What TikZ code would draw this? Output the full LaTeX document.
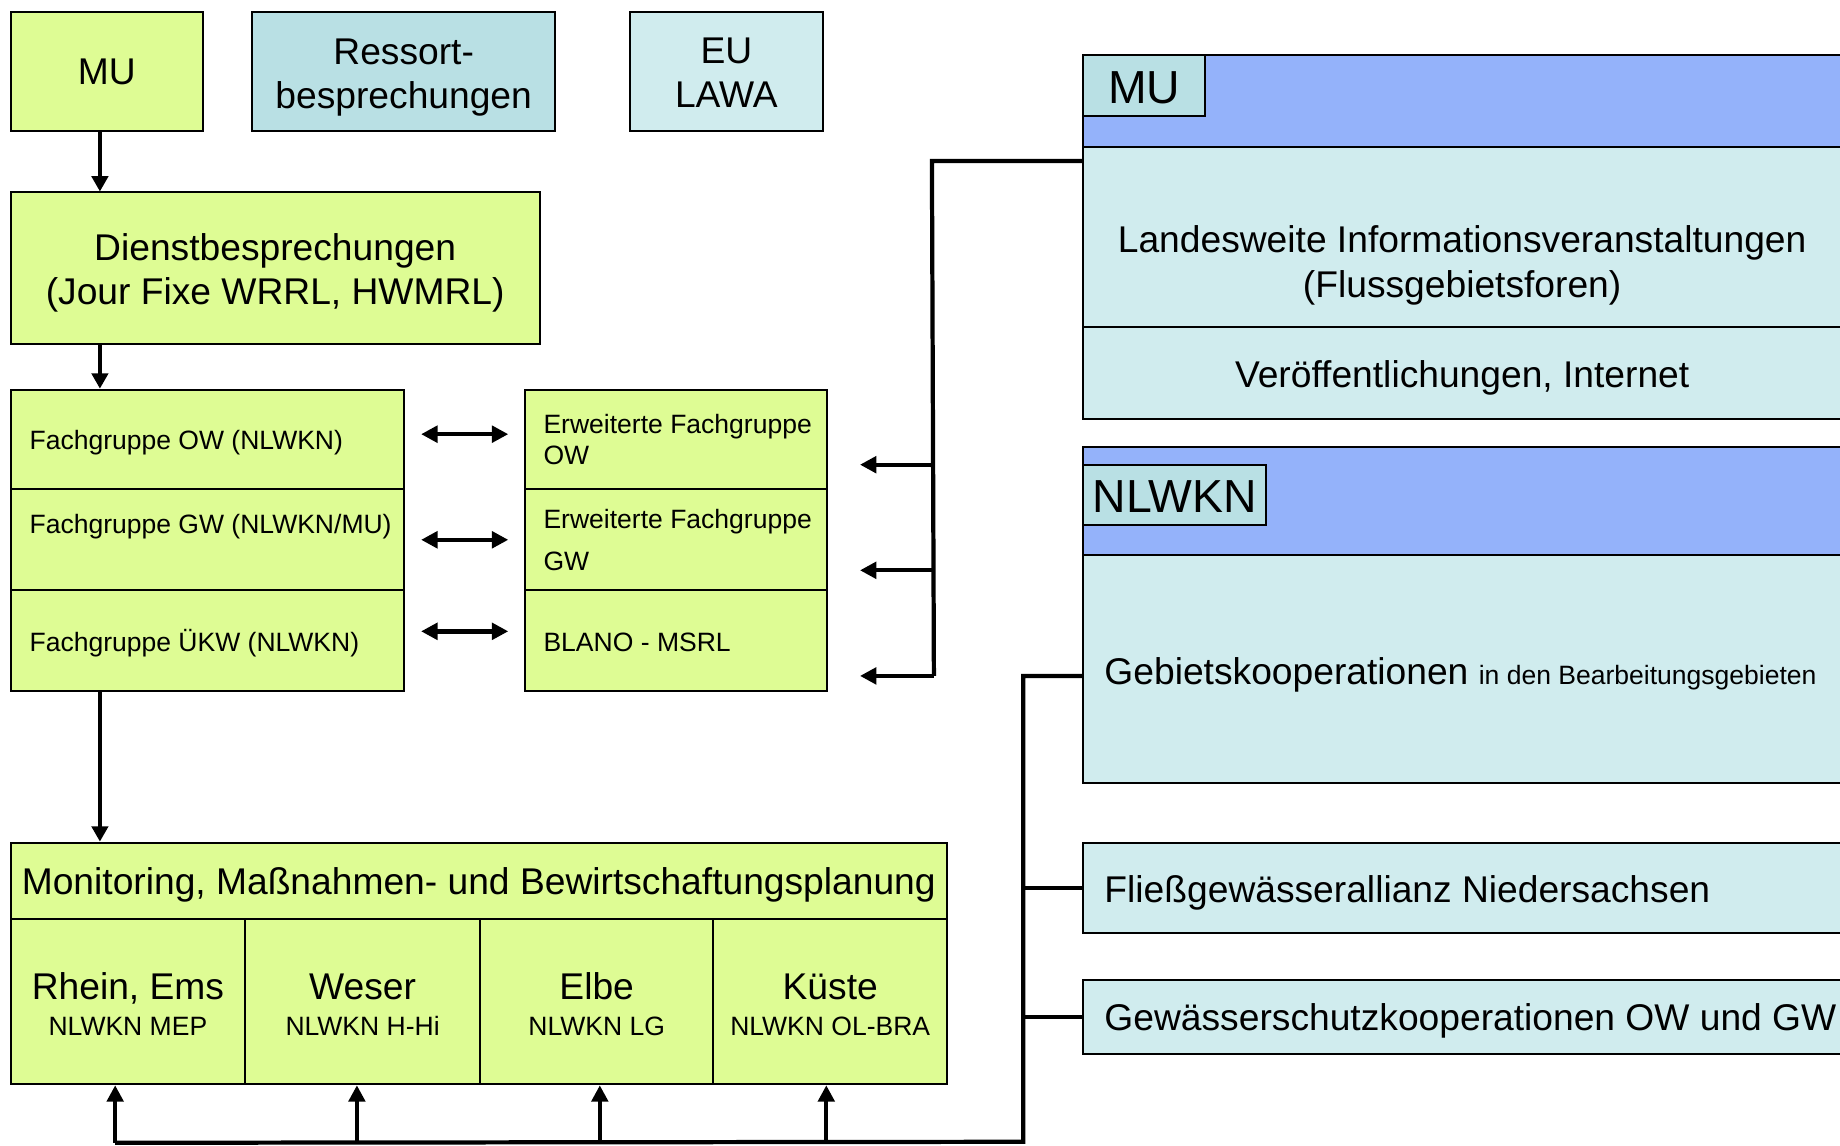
\documentclass[tikz,border=0pt]{standalone}
\usepackage{fontspec}
\setmainfont{Liberation Sans}
\usetikzlibrary{arrows.meta,fit,calc}
\definecolor{lgreen}{RGB}{222,252,148}
\definecolor{teal1}{RGB}{185,224,228}
\definecolor{teal2}{RGB}{208,236,238}
\definecolor{hblue}{RGB}{148,178,250}
\newcommand\fbig{\fontsize{31.7}{38}\selectfont}
\newcommand\fsmall{\fontsize{22.6}{27}\selectfont}
\newcommand\fhead{\fontsize{39.5}{46}\selectfont}
\begin{document}
\begin{tikzpicture}[x=1pt,y=-1pt,
  bx/.style={draw=black, line width=1.7pt, inner sep=0pt},
  gbox/.style={bx, fill=lgreen},
  tbox/.style={bx, fill=teal1},
  lbox/.style={bx, fill=teal2},
  hbox/.style={bx, fill=hblue},
  txt/.style={inner sep=0pt, anchor=base west},
  ctxt/.style={inner sep=0pt, anchor=base},
  mtxt/.style={inner sep=0pt, align=center, font=\fbig},
  conn/.style={line width=3.6pt},
  arr/.style={line width=2.8pt, -{Triangle[length=13pt,width=14pt]}},
  arru/.style={line width=3.4pt, -{Triangle[length=14pt,width=14pt]}},
  arrb/.style={line width=3.6pt, -{Triangle[length=14pt,width=14pt]}},
  darr/.style={line width=3.7pt, {Triangle[length=14pt,width=14pt]}-{Triangle[length=14pt,width=14pt]}}
]
\useasboundingbox (0,0) rectangle (1568,976);

% top row
\node[gbox, fit={(9,10)(173,112)}] (mu) {};
\node[mtxt] (mut) at (mu.center) {MU};
\node[tbox, fit={(215,10)(473,112)}] (ress) {};
\node[mtxt] (resst) at ($(ress.center)+(0,5)$) {Ressort-\\besprechungen};
\node[lbox, fit={(537,10)(701,112)}] (eu) {};
\node[mtxt] (eut) at ($(eu.center)+(0,1)$) {EU\\LAWA};

% Dienstbesprechungen
\node[gbox, fit={(9,164)(460,293)}] (dienst) {};
\node[mtxt] (dienstt) at ($(dienst.center)+(0,4)$) {Dienstbesprechungen\\(Jour Fixe WRRL, HWMRL)};

% Fachgruppen
\node[gbox, fit={(9,332)(344,417)}] (fg1) {};
\node[gbox, fit={(9,417)(344,503)}] (fg2) {};
\node[gbox, fit={(9,503)(344,589)}] (fg3) {};
\node[txt, font=\fsmall] (fg1t) at (25,383) {Fachgruppe OW (NLWKN)};
\node[txt, font=\fsmall] (fg2t) at (25,455) {Fachgruppe GW (NLWKN/MU)};
\node[txt, font=\fsmall] (fg3t) at (25,555) {Fachgruppe ÜKW (NLWKN)};

\node[gbox, fit={(447,332)(705,417)}] (ew1) {};
\node[gbox, fit={(447,417)(705,503)}] (ew2) {};
\node[gbox, fit={(447,503)(705,589)}] (ew3) {};
\node[txt, font=\fsmall] (ew1a) at (463,369) {Erweiterte Fachgruppe};
\node[txt, font=\fsmall] (ew1b) at (463,396) {OW};
\node[txt, font=\fsmall] (ew2a) at (463,450) {Erweiterte Fachgruppe};
\node[txt, font=\fsmall] (ew2b) at (463,486) {GW};
\node[txt, font=\fsmall] (ew3t) at (463,555) {BLANO - MSRL};

% Monitoring block
\node[gbox, fit={(9,718)(807,783)}] (mon) {};
\node[ctxt, font=\fbig] (mont) at (408,762) {Monitoring, Maßnahmen- und Bewirtschaftungsplanung};
\node[gbox, fit={(9,783)(209,924)}] (c1) {};
\node[gbox, fit={(209,783)(409,924)}] (c2) {};
\node[gbox, fit={(409,783)(608,924)}] (c3) {};
\node[gbox, fit={(608,783)(807,924)}] (c4) {};
\node[ctxt, font=\fbig] (c1a) at (109,852) {Rhein, Ems};
\node[ctxt, font=\fsmall] (c1b) at (109,882) {NLWKN MEP};
\node[ctxt, font=\fbig] (c2a) at (309,852) {Weser};
\node[ctxt, font=\fsmall] (c2b) at (309,882) {NLWKN H-Hi};
\node[ctxt, font=\fbig] (c3a) at (508.5,852) {Elbe};
\node[ctxt, font=\fsmall] (c3b) at (508.5,882) {NLWKN LG};
\node[ctxt, font=\fbig] (c4a) at (707.5,852) {Küste};
\node[ctxt, font=\fsmall] (c4b) at (707.5,882) {NLWKN OL-BRA};

% right side: MU group
\node[hbox, fit={(923,47)(1575,125)}] (mug) {};
\node[tbox, fit={(923,47)(1027,99)}] (mutab) {};
\node[ctxt, font=\fhead] (mutabt) at (975,88) {MU};
\node[lbox, fit={(923,125)(1575,279)}] (lw) {};
\node[mtxt] (lwt) at (1246,226) {Landesweite Informationsveranstaltungen\\(Flussgebietsforen)};
\node[lbox, fit={(923,279)(1575,357)}] (vo) {};
\node[ctxt, font=\fbig] (vot) at (1246,330) {Veröffentlichungen, Internet};

% NLWKN group
\node[hbox, fit={(923,381)(1575,473)}] (nlg) {};
\node[tbox, fit={(923,396)(1079,447)}] (nltab) {};
\node[ctxt, font=\fhead] (nltabt) at (1001,437) {NLWKN};
\node[lbox, fit={(923,473)(1575,667)}] (gb) {};
\node[txt] (gbt) at (941,583) {\fbig Gebietskooperationen {\fsmall in den Bearbeitungsgebieten}};

\node[lbox, fit={(923,718)(1575,795)}] (fl) {};
\node[txt, font=\fbig] (flt) at (941,769) {Fließgewässerallianz Niedersachsen};
\node[lbox, fit={(923,835)(1575,898)}] (gs) {};
\node[txt, font=\fbig] (gst) at (941,878) {Gewässerschutzkooperationen OW und GW};

% vertical arrows on the left
\draw[arr] ($(mu.south west)+(77,0)$) -- ($(dienst.north west)+(77,0)$);
\draw[arr] ($(dienst.south west)+(77,0)$) -- ($(fg1.north west)+(77,0)$);
\draw[arr] ($(fg3.south west)+(77,0)$) -- ($(mon.north west)+(77,0)$);

% double arrows
\draw[darr] ($(fg1.east)+(14,-4.5)$) -- ($(ew1.west)+(-13,-4.5)$);
\draw[darr] ($(fg2.east)+(14,0)$) -- ($(ew2.west)+(-13,0)$);
\draw[darr] ($(fg3.east)+(14,-8)$) -- ($(ew3.west)+(-13,-8)$);

% bracket from MU group to Erweiterte
\coordinate (brT) at ($(lw.north west)+(-128,13)$);
\coordinate (brB) at ($(ew3.east)+(90,30)$);
\draw[conn] ($(lw.north west)+(0,13)$) -- (brT) -- (brB);
\draw[arrb] ($(ew1.east)+(90,21.5)$) -- ($(ew1.east)+(27,21.5)$);
\draw[arrb] ($(ew2.east)+(90,26)$) -- ($(ew2.east)+(27,26)$);
\draw[arrb] (brB) -- ($(ew3.east)+(27,30)$);

% bus from right boxes to regions
\coordinate (busR) at (872,973);
\coordinate (b1) at ($(c1.south west)+(90,49)$);
\coordinate (b2) at ($(c2.south west)+(96,49)$);
\coordinate (b3) at ($(c3.south west)+(103,49)$);
\coordinate (b4) at ($(c4.south west)+(97,49)$);
\coordinate (gbc) at ($(gb.west)+(0,6)$);
\draw[conn] (b1) -- (busR) -- (gbc -| busR) -- (gbc);
\draw[conn] (fl.west -| busR) -- (fl.west);
\draw[conn] (gs.west -| busR) -- (gs.west);
\draw[arru] (b1) -- ($(c1.south west)+(90,0)$);
\draw[arru] (b2) -- ($(c2.south west)+(96,0)$);
\draw[arru] (b3) -- ($(c3.south west)+(103,0)$);
\draw[arru] (b4) -- ($(c4.south west)+(97,0)$);
\end{tikzpicture}
\end{document}
